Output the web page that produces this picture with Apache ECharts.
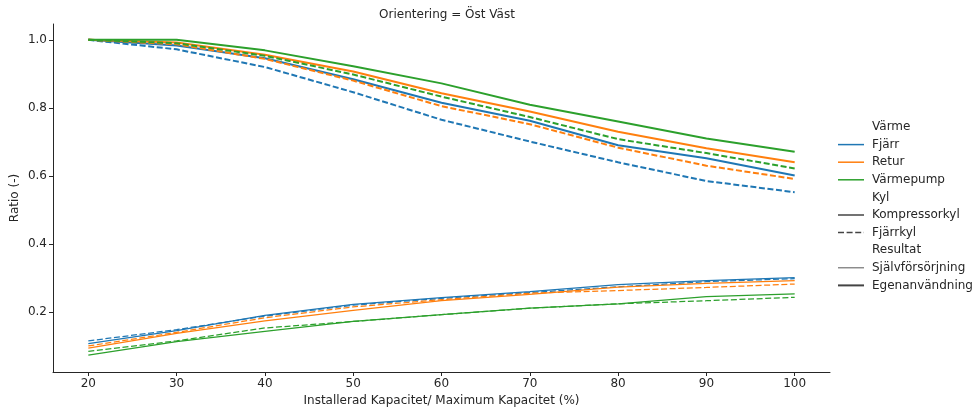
<!DOCTYPE html>
<html>
<head>
<meta charset="utf-8">
<script src="https://cdn.jsdelivr.net/npm/echarts@6/dist/echarts.min.js"></script>
<style>
  html, body { margin: 0; padding: 0; background: #fff; }
  #chart { width: 976px; height: 414px; }
</style>
</head>
<body>
<div id="chart"></div>
<script>
// kapacitet (%)
const xValues = [20, 30, 40, 50, 60, 70, 80, 90, 100]
const xTicks = [20, 30, 40, 50, 60, 70, 80, 90, 100]
const yTicks = [0.2, 0.4, 0.6, 0.8, 1.0]

// Egenanvändning (tjocka linjer)
const fjarrKompEgen = [1.0, 0.983, 0.946, 0.884, 0.815, 0.762, 0.690, 0.652, 0.601]
const fjarrFjkEgen = [1.0, 0.972, 0.920, 0.846, 0.765, 0.701, 0.640, 0.585, 0.552]
const returKompEgen = [1.0, 0.992, 0.956, 0.907, 0.843, 0.789, 0.730, 0.681, 0.640]
const returFjkEgen = [1.0, 0.987, 0.944, 0.880, 0.805, 0.752, 0.683, 0.630, 0.591]
const vpKompEgen = [1.0, 1.0, 0.969, 0.922, 0.872, 0.809, 0.760, 0.710, 0.671]
const vpFjkEgen = [1.0, 0.990, 0.953, 0.898, 0.833, 0.773, 0.708, 0.667, 0.622]

// Självförsörjning (tunna linjer)
const fjarrKompSjalv = [0.107, 0.145, 0.190, 0.222, 0.242, 0.260, 0.280, 0.292, 0.301]
const fjarrFjkSjalv = [0.115, 0.148, 0.188, 0.220, 0.240, 0.257, 0.274, 0.289, 0.298]
const returKompSjalv = [0.094, 0.137, 0.174, 0.205, 0.233, 0.252, 0.273, 0.284, 0.292]
const returFjkSjalv = [0.100, 0.140, 0.183, 0.215, 0.236, 0.255, 0.263, 0.272, 0.282]
const vpKompSjalv = [0.073, 0.113, 0.143, 0.172, 0.192, 0.211, 0.224, 0.245, 0.253]
const vpFjkSjalv = [0.084, 0.115, 0.153, 0.172, 0.192, 0.211, 0.224, 0.233, 0.243]

const colors = { Fjärr: '#1f77b4', Retur: '#ff7f0e', Värmepump: '#2ca02c' }
const dashed = [6, 2.6]

const lines = [
  ['Fjärr', 'Kompressorkyl', 'Egenanvändning', fjarrKompEgen],
  ['Fjärr', 'Fjärrkyl', 'Egenanvändning', fjarrFjkEgen],
  ['Retur', 'Kompressorkyl', 'Egenanvändning', returKompEgen],
  ['Retur', 'Fjärrkyl', 'Egenanvändning', returFjkEgen],
  ['Värmepump', 'Kompressorkyl', 'Egenanvändning', vpKompEgen],
  ['Värmepump', 'Fjärrkyl', 'Egenanvändning', vpFjkEgen],
  ['Fjärr', 'Kompressorkyl', 'Självförsörjning', fjarrKompSjalv],
  ['Fjärr', 'Fjärrkyl', 'Självförsörjning', fjarrFjkSjalv],
  ['Retur', 'Kompressorkyl', 'Självförsörjning', returKompSjalv],
  ['Retur', 'Fjärrkyl', 'Självförsörjning', returFjkSjalv],
  ['Värmepump', 'Kompressorkyl', 'Självförsörjning', vpKompSjalv],
  ['Värmepump', 'Fjärrkyl', 'Självförsörjning', vpFjkSjalv]
]

const series = lines.map(([varme, kyl, res, vals]) => ({
  name: varme + ' ' + kyl + ' ' + res,
  type: 'line',
  data: xValues.map((x, i) => [x, vals[i]]),
  showSymbol: false,
  silent: true,
  lineStyle: {
    color: colors[varme],
    width: res === 'Egenanvändning' ? 2 : 1.25,
    type: kyl === 'Fjärrkyl' ? dashed : 'solid'
  }
}))

// legend (rubrik / poster)
const legendRows = [
  { label: 'Värme' },
  { label: 'Fjärr', color: colors['Fjärr'], width: 1.5 },
  { label: 'Retur', color: colors['Retur'], width: 1.5 },
  { label: 'Värmepump', color: colors['Värmepump'], width: 1.5 },
  { label: 'Kyl' },
  { label: 'Kompressorkyl', color: '#444', width: 1.5 },
  { label: 'Fjärrkyl', color: '#444', width: 1.5, dash: dashed },
  { label: 'Resultat' },
  { label: 'Självförsörjning', color: '#666', width: 1.1 },
  { label: 'Egenanvändning', color: '#444', width: 2 }
]

const font = 'DejaVu Sans'
const legendGraphic = []
legendRows.forEach((row, i) => {
  const y = 127 + i * 17.6
  if (row.color) {
    legendGraphic.push({
      type: 'line',
      shape: { x1: 838, y1: y, x2: 864, y2: y },
      style: { stroke: row.color, lineWidth: row.width, lineDash: row.dash || null }
    })
  }
  legendGraphic.push({
    type: 'text',
    x: 872,
    y: y,
    style: { text: row.label, fill: '#262626', font: '12px "' + font + '"', textVerticalAlign: 'middle' }
  })
})

const chart = echarts.init(document.getElementById('chart'), null, { renderer: 'canvas' })

chart.setOption({
  animation: false,
  backgroundColor: '#fff',
  textStyle: { fontFamily: font },
  title: {
    text: 'Orientering = Öst Väst',
    left: 442,
    top: 4,
    textAlign: 'center',
    textStyle: { fontSize: 12, fontWeight: 'normal', color: '#262626', fontFamily: font }
  },
  grid: { left: 53, right: 146, top: 24, bottom: 42, containLabel: false, outerBoundsMode: 'none' },
  xAxis: {
    type: 'value',
    min: 16,
    max: 104,
    name: 'Installerad Kapacitet/ Maximum Kapacitet (%)',
    nameLocation: 'middle',
    nameGap: 23,
    nameMoveOverlap: false,
    nameTextStyle: { fontSize: 12, color: '#262626' },
    splitLine: { show: false },
    axisLine: { lineStyle: { color: '#262626', width: 1 } },
    axisTick: { show: true, length: 4, lineStyle: { color: '#262626' }, customValues: xTicks },
    axisLabel: { fontSize: 12, color: '#262626', margin: 6, customValues: xTicks }
  },
  yAxis: {
    type: 'value',
    min: 0.0235,
    max: 1.0465,
    name: 'Ratio (-)',
    nameLocation: 'middle',
    nameGap: 32,
    nameMoveOverlap: false,
    nameRotate: 90,
    nameTextStyle: { fontSize: 12, color: '#262626' },
    splitLine: { show: false },
    axisLine: { show: true, lineStyle: { color: '#262626', width: 1 } },
    axisTick: { show: true, length: 4, lineStyle: { color: '#262626' }, customValues: yTicks },
    axisLabel: {
      fontSize: 12,
      color: '#262626',
      margin: 6,
      customValues: yTicks,
      formatter: v => v.toFixed(1)
    }
  },
  series: series,
  graphic: legendGraphic
})
</script>
</body>
</html>
